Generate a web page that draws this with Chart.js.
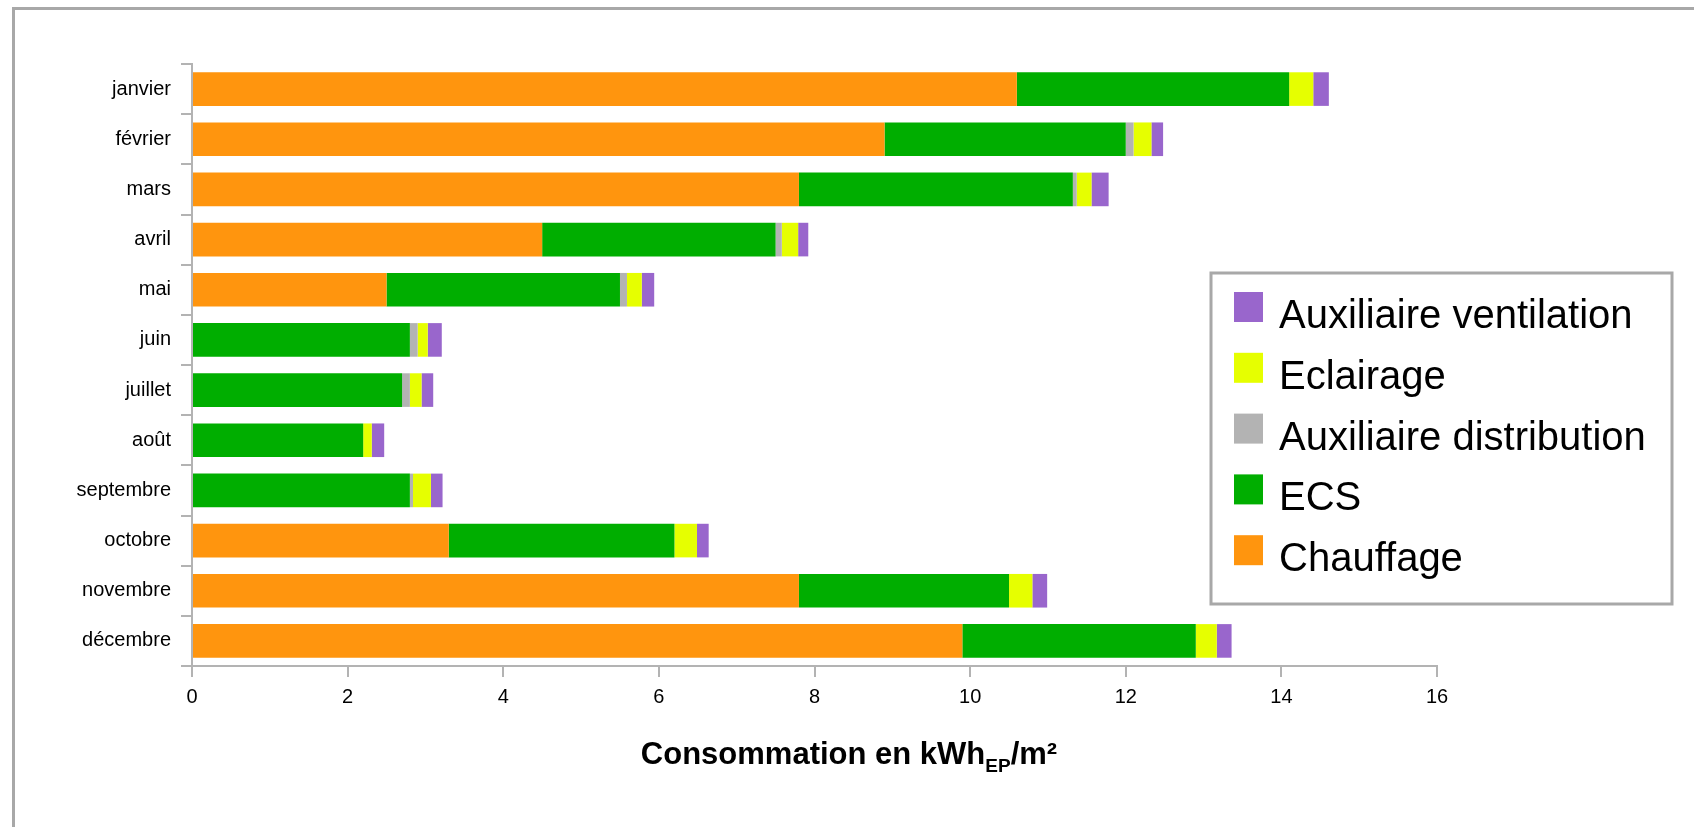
<!DOCTYPE html>
<html>
<head>
<meta charset="utf-8">
<script src="https://cdn.jsdelivr.net/npm/chart.js@4/dist/chart.umd.min.js"></script>
<style>
	body { margin: 0; background: #fff; }
	#wrap { position: relative; width: 1694px; height: 827px; overflow: hidden; }
	#frame { position: absolute; left: 12px; top: 7px; width: 2000px; height: 1000px;
		border-left: 3px solid #a8a8a8; border-top: 3px solid #a8a8a8; }
	#chart { position: absolute; left: 0; top: 0; }
</style>
</head>
<body>
<div id="wrap">
	<div id="frame"></div>
	<canvas id="chart" width="1694" height="827"></canvas>
</div>
<script>
// months on the category axis
var months = ["janvier", "février", "mars", "avril", "mai", "juin", "juillet", "août", "septembre", "octobre", "novembre", "décembre"];

// kWhEP/m² per month
var chauffage = [10.6, 8.9, 7.8, 4.5, 2.5, 0, 0, 0, 0, 3.3, 7.8, 9.9];
var ecs = [3.5, 3.1, 3.52, 3.0, 3.0, 2.8, 2.7, 2.2, 2.8, 2.9, 2.7, 3.0];
var auxDistribution = [0, 0.1, 0.05, 0.08, 0.09, 0.1, 0.1, 0, 0.04, 0, 0, 0];
var eclairage = [0.31, 0.23, 0.19, 0.21, 0.19, 0.13, 0.15, 0.11, 0.23, 0.29, 0.3, 0.27];
var auxVentilation = [0.2, 0.15, 0.22, 0.13, 0.16, 0.18, 0.15, 0.16, 0.15, 0.15, 0.19, 0.19];

var xTicks = [0, 2, 4, 6, 8, 10, 12, 14, 16];

var FONT = "'Liberation Sans', Arial, sans-serif";

// legend box drawn inside the plot, top entry = last dataset
var boxLegend = {
	id: "boxLegend",
	afterDraw: function(chart) {
		var ctx = chart.ctx;
		ctx.save();
		ctx.strokeStyle = "#a8a8a8";
		ctx.lineWidth = 3;
		ctx.fillStyle = "#fff";
		ctx.fillRect(1211, 273, 461, 331);
		ctx.strokeRect(1211, 273, 461, 331);
		var sets = chart.data.datasets.slice().reverse();
		ctx.font = "40px " + FONT;
		ctx.textBaseline = "alphabetic";
		for (var i = 0; i < sets.length; i++) {
			var y = 292 + i * 60.8;
			ctx.fillStyle = sets[i].backgroundColor;
			ctx.fillRect(1234, y, 29, 30);
			ctx.fillStyle = "#000";
			ctx.fillText(sets[i].label, 1279, y + 36);
		}

		// axis title with EP subscript
		var main = "Consommation en kWh", sub = "EP", tail = "/m²";
		ctx.font = "bold 31px " + FONT;
		var w1 = ctx.measureText(main).width;
		var w3 = ctx.measureText(tail).width;
		ctx.font = "bold 19px " + FONT;
		var w2 = ctx.measureText(sub).width;
		var x = 849 - (w1 + w2 + w3) / 2;
		var base = 764;
		ctx.fillStyle = "#000";
		ctx.font = "bold 31px " + FONT;
		ctx.fillText(main, x, base);
		ctx.font = "bold 19px " + FONT;
		ctx.fillText(sub, x + w1, base + 8);
		ctx.font = "bold 31px " + FONT;
		ctx.fillText(tail, x + w1 + w2, base);
		ctx.restore();
	}
};

new Chart("chart", {
	type: "bar",
	data: {
		labels: months,
		datasets: [
			{ label: "Chauffage", data: chauffage, backgroundColor: "#ff950e" },
			{ label: "ECS", data: ecs, backgroundColor: "#00ae00" },
			{ label: "Auxiliaire distribution", data: auxDistribution, backgroundColor: "#b3b3b3" },
			{ label: "Eclairage", data: eclairage, backgroundColor: "#e6ff00" },
			{ label: "Auxiliaire ventilation", data: auxVentilation, backgroundColor: "#9966cc" }
		]
	},
	options: {
		indexAxis: "y",
		responsive: false,
		animation: false,
		layout: { padding: { left: 0, top: 64, right: 257, bottom: 0 } },
		datasets: { bar: { barPercentage: 0.67, categoryPercentage: 1, borderWidth: 0 } },
		plugins: {
			legend: { display: false },
			tooltip: { enabled: false }
		},
		scales: {
			x: {
				stacked: true,
				min: 0,
				max: 16,
				afterFit: function(s) { s.height = 161; },
				afterBuildTicks: function(s) { s.ticks = xTicks.map(function(v) { return { value: v }; }); },
				border: { display: true, color: "#b3b3b3", width: 2 },
				grid: { drawOnChartArea: false, drawTicks: true, tickLength: 11, color: "#b3b3b3", lineWidth: 2 },
				ticks: { color: "#000", font: { family: FONT, size: 20 }, padding: 8, maxRotation: 0 }
			},
			y: {
				stacked: true,
				afterFit: function(s) { s.width = 192; },
				border: { display: true, color: "#b3b3b3", width: 2 },
				grid: { offset: true, drawOnChartArea: false, drawTicks: true, tickLength: 11, color: "#b3b3b3", lineWidth: 2 },
				ticks: { color: "#000", font: { family: FONT, size: 20 }, padding: 10 }
			}
		}
	},
	plugins: [boxLegend]
});
</script>
</body>
</html>
